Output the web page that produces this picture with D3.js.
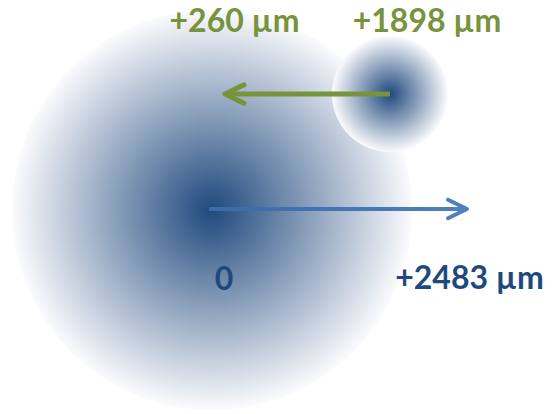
<!DOCTYPE html>
<html><head><meta charset="utf-8">
<script src="https://cdn.jsdelivr.net/npm/d3@7"></script>
<style>html,body{margin:0;padding:0;background:#fff;}svg{display:block;}</style>
</head><body>
<script>
// Diagram data (units: radius of the large body = 1, origin at its centre)
const bodyNames   = ["main", "satellite"];
const bodyX       = [0.0, 0.89];
const bodyY       = [0.0, -0.58];
const bodyR       = [1.0, 0.29];

const arrowNames  = ["satellite shift", "main shift"];
const arrowFromX  = [0.89, -0.015];
const arrowToX    = [0.065, 1.275];
const arrowY      = [-0.58, -0.005];
const arrowColors = ["#77933C", "url(#blueArrow)"];
const arrowWidths = [5, 4];

const labelText   = ["+260 µm", "+1898 µm", "0", "+2483 µm"];
const labelX      = [0.1125, 1.075, 0.06, 1.2875];
const labelY      = [-0.89, -0.89, 0.40, 0.395];
const labelColor  = ["#77933C", "#77933C", "#1F497D", "#1F497D"];

const W = 557, H = 414;
const x = d3.scaleLinear().domain([0, 1]).range([212, 412]);
const y = d3.scaleLinear().domain([0, 1]).range([210, 410]);
const r = d3.scaleLinear().domain([0, 1]).range([0, 200]);

const svg = d3.select("body").append("svg").attr("width", W).attr("height", H);
const defs = svg.append("defs");
const rg = defs.append("radialGradient").attr("id", "bodyGrad");
rg.append("stop").attr("offset", "0%").attr("stop-color", "#1F497D");
rg.append("stop").attr("offset", "100%").attr("stop-color", "#fbfbfd");
const lg = defs.append("linearGradient").attr("id", "blueArrow")
  .attr("gradientUnits", "userSpaceOnUse")
  .attr("x1", x(arrowFromX[1])).attr("x2", x(arrowToX[1])).attr("y1", 0).attr("y2", 0);
lg.append("stop").attr("offset", "0%").attr("stop-color", "#3a6aa8");
lg.append("stop").attr("offset", "100%").attr("stop-color", "#4f81bd");

svg.selectAll("circle.body").data(bodyNames).join("circle")
  .attr("class", "body")
  .attr("cx", (d, i) => x(bodyX[i]))
  .attr("cy", (d, i) => y(bodyY[i]))
  .attr("r", (d, i) => r(bodyR[i]))
  .attr("fill", "url(#bodyGrad)");

const headLen = 0.095, headHalf = 0.046;
const arrows = svg.selectAll("g.arrow").data(arrowNames).join("g").attr("class", "arrow");
arrows.append("line")
  .attr("x1", (d, i) => x(arrowFromX[i])).attr("x2", (d, i) => x(arrowToX[i]))
  .attr("y1", (d, i) => y(arrowY[i])).attr("y2", (d, i) => y(arrowY[i]))
  .attr("stroke", (d, i) => arrowColors[i]).attr("stroke-width", (d, i) => arrowWidths[i]);
arrows.append("path")
  .attr("d", (d, i) => {
    const dir = Math.sign(arrowToX[i] - arrowFromX[i]);
    const tx = arrowToX[i], ty = arrowY[i];
    return d3.line()([[x(tx - dir * headLen), y(ty - headHalf)], [x(tx), y(ty)], [x(tx - dir * headLen), y(ty + headHalf)]]);
  })
  .attr("fill", "none")
  .attr("stroke", (d, i) => i === 1 ? "#4f81bd" : arrowColors[i])
  .attr("stroke-width", (d, i) => arrowWidths[i])
  .attr("stroke-linecap", "round").attr("stroke-linejoin", "round");

svg.selectAll("text.lbl").data(labelText).join("text")
  .attr("class", "lbl")
  .attr("x", (d, i) => x(labelX[i]))
  .attr("y", (d, i) => y(labelY[i]))
  .attr("text-anchor", "middle")
  .attr("font-family", "Lato, 'Open Sans', sans-serif")
  .attr("font-weight", "bold")
  .attr("font-size", 32)
  .attr("fill", (d, i) => labelColor[i])
  .text(d => d);
</script>
</body></html>
